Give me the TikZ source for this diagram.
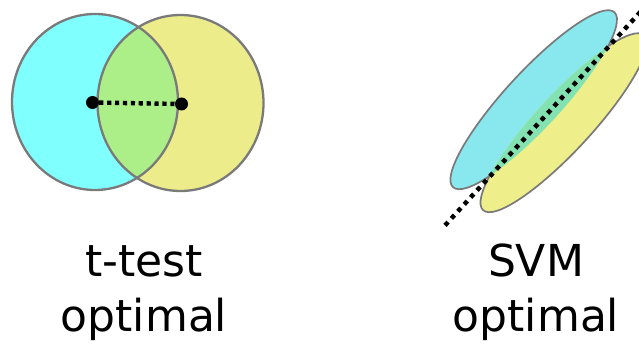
\documentclass[tikz,border=0pt]{standalone}
\usepackage{fontspec}
\setmainfont{DejaVu Sans}
\definecolor{lcyan}{RGB}{128,255,255}
\definecolor{lyellow}{RGB}{236,236,138}
\definecolor{lgreen}{RGB}{172,238,136}
\definecolor{rcyan}{RGB}{136,232,238}
\definecolor{ryellow}{RGB}{238,238,138}
\definecolor{rgreen}{RGB}{130,226,178}
\definecolor{edgegray}{RGB}{122,122,122}
\begin{document}
\begin{tikzpicture}[x=1pt,y=1pt,
  circout/.style={draw=edgegray, line width=2.3pt},
  ellout/.style={draw=edgegray, line width=1.7pt},
  meandot/.style={circle, fill=black, inner sep=0pt, minimum size=13pt},
  shortdots/.style={line width=4.4pt, dash pattern=on 4.2pt off 3.7pt},
  longdots/.style={line width=4.5pt, dash pattern=on 4.5pt off 5pt},
  caption/.style={font=\fontsize{44}{55}\selectfont, anchor=base, inner sep=0pt}]
\useasboundingbox (0,0) rectangle (639,343);
\clip (0,0) rectangle (639,343);

% ---- left: two round classes, means joined
\coordinate (cA) at (95,241);
\coordinate (cB) at (180.5,240);
\fill[lcyan] (cA) ellipse [x radius=83, y radius=88];
\fill[lyellow] (cB) ellipse [x radius=83, y radius=88];
\begin{scope}
  \clip (cA) ellipse [x radius=83, y radius=88];
  \fill[lgreen] (cB) ellipse [x radius=83, y radius=88];
\end{scope}
\draw[circout] (cA) ellipse [x radius=83, y radius=88];
\draw[circout] (cB) ellipse [x radius=83, y radius=88];
\node[meandot] (m1) at (92.5,240.5) {};
\node[meandot] (m2) at (181.5,239) {};
\draw[shortdots] (m1) -- (m2);

% ---- right: two elongated classes along a common axis
\begin{scope}[rotate around={47.3:(533.7,243.3)}]
  \coordinate (eA) at (533.7,243.3);
  \coordinate (eB) at (537.2,205.6);
  \fill[rcyan] (eA) ellipse [x radius=119, y radius=28];
  \fill[ryellow] (eB) ellipse [x radius=119, y radius=28];
  \begin{scope}
    \clip (eA) ellipse [x radius=119, y radius=28];
    \fill[rgreen] (eB) ellipse [x radius=119, y radius=28];
  \end{scope}
  % outlines only where the other class does not cover them
  % (clockwise frame with an anticlockwise hole)
  \begin{scope}
    \clip (333,40) -- (333,450) -- (733,450) -- (733,40) -- cycle
          (eB) ellipse [x radius=119, y radius=28];
    \draw[ellout] (eA) ellipse [x radius=119, y radius=28];
  \end{scope}
  \begin{scope}
    \clip (333,40) -- (333,450) -- (733,450) -- (733,40) -- cycle
          (eA) ellipse [x radius=119, y radius=28];
    \draw[ellout] (eB) ellipse [x radius=119, y radius=28];
  \end{scope}
\end{scope}
\coordinate (s1) at (445,117.6);
\coordinate (s2) at (645,336.1);
\draw[longdots] (s1) -- (s2);

% ---- captions
\node[caption] (t1) at (144,67) {t-test};
\node[caption] (t2) at (144,12) {optimal};
\node[caption] (t3) at (536,67) {SVM};
\node[caption] (t4) at (536,12) {optimal};
\end{tikzpicture}
\end{document}
